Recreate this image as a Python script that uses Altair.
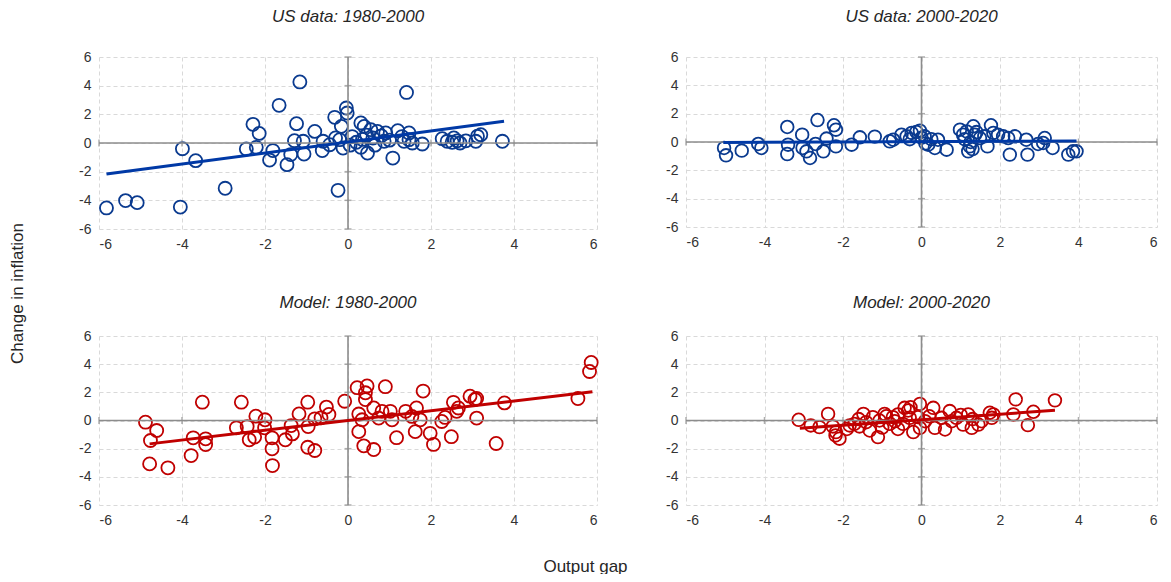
import altair as alt
import pandas as pd

TICKS = [-6, -4, -2, 0, 2, 4, 6]
TITLES = ["US data: 1980-2000", "US data: 2000-2020", "Model: 1980-2000", "Model: 2000-2020"]
Y_TITLE = "Change in inflation"
X_TITLE = "Output gap"

# US data 1980-2000
tl_x = [-5.82, -5.36, -5.08, -4.04, -3.99, -3.67, -2.96, -2.45, -2.29, -2.14, -2.21, -1.81, -1.89, -1.66,
        -1.47, -1.38, -1.24, -1.16, -1.29, -1.08, -1.06, -0.80, -0.62, -0.60, -0.44, -0.32, -0.24, -0.20,
        -0.12, -0.16, -0.04, -0.02, 1.41, 0.31, 0.39, 0.55, 0.71, 0.91, 1.20, 1.47, 1.47, 1.08, 0.47, 0.31,
        0.87, 1.35, 1.55, 1.79, 2.27, 2.39, 2.51, 2.63, 2.84, 3.08, 3.12, 3.20, 3.72,
        -0.30, 0.05, 0.10, 0.20, 0.35, 0.45, 0.60, 0.65, 0.80, 1.00, 1.30, 2.55, 2.70]
tl_y = [-4.53, -4.02, -4.16, -4.47, -0.40, -1.23, -3.16, -0.42, 1.30, 0.67, -0.30, -0.53, -1.19, 2.63,
        -1.51, -0.81, 1.35, 4.26, 0.16, 0.12, -0.77, 0.81, -0.53, 0.12, -0.12, 1.79, -3.30, 0.23,
        -0.35, 1.16, 2.44, 2.09, 3.53, 1.40, 1.16, 0.93, 0.81, 0.70, 0.86, 0.70, 0.23, -1.05, -0.70, -0.30,
        0.12, 0.12, 0.00, -0.07, 0.30, 0.12, 0.05, 0.15, 0.15, 0.12, 0.47, 0.58, 0.12,
        0.35, -0.15, 0.45, 0.05, 0.25, 0.55, 0.35, -0.15, 0.50, 0.20, 0.45, 0.35, 0.00]
tl_fit_x = [-5.82, 3.76]
tl_fit_y = [-2.16, 1.51]

# US data 2000-2020
tr_x = [-5.03, -4.98, -4.58, -4.16, -4.08, -3.42, -3.40, -3.42, -3.04, -3.03, -2.84, -2.93, -2.65, -2.70,
        -2.50, -2.42, -2.23, -2.18, -2.18, -1.78, -1.57, -1.19, -0.81, -0.72, -0.51, -0.38, -0.25, -0.13,
        -0.04, 0.08, 0.17, 0.34, 0.42, 0.64, 0.98, 1.06, 1.19, 1.23, 1.32, 1.36, 1.49, 1.68, 1.77, 1.83,
        1.95, 2.08, 2.21, 2.25, 2.38, 2.67, 2.70, 2.97, 3.14, 3.10, 3.34, 3.74, 3.86, 3.95,
        -0.30, 0.00, 0.10, 0.25, 1.10, 1.25, 1.40, 1.60, 1.30, 1.15]
tr_y = [-0.42, -0.94, -0.61, -0.14, -0.42, 1.06, -0.19, -0.85, 0.52, -0.42, -1.13, -0.66, 1.55, -0.14,
        -0.66, 0.24, 1.18, 0.87, -0.31, -0.19, 0.33, 0.38, 0.05, 0.16, 0.52, 0.40, 0.64, 0.71,
        0.80, 0.40, -0.19, -0.42, 0.16, -0.54, 0.87, 0.52, -0.66, -0.31, 1.11, 0.52, 0.28, -0.31, 1.18, 0.64,
        0.52, 0.40, 0.28, -0.89, 0.40, 0.16, -0.89, -0.14, 0.28, -0.07, -0.42, -0.89, -0.66, -0.66,
        0.20, 0.30, -0.10, 0.20, 0.20, 0.00, 0.70, 0.40, -0.50, 0.75]
tr_fit_x = [-5.05, 3.95]
tr_fit_y = [-0.03, 0.07]

# Model 1980-2000
bl_x = [-4.88, -4.61, -4.76, -4.78, -4.34, -3.78, -3.73, -3.51, -3.43, -3.43, -2.69, -2.57, -2.43, -2.38,
        -2.25, -2.22, -2.00, -2.01, -1.83, -1.83, -1.82, -1.51, -1.37, -1.34, -1.18, -0.97, -0.96, -0.97,
        -0.80, -0.80, -0.65, -0.52, -0.46, -0.08, 0.22, 0.46, 0.42, 0.42, 0.90, 1.81, 0.26, 0.34, 0.26,
        0.38, 0.62, 0.62, 0.74, 0.82, 1.02, 1.06, 1.17, 1.39, 1.54, 1.65, 1.74, 1.62, 1.98, 2.06, 2.26,
        2.34, 2.49, 2.54, 2.62, 2.66, 2.94, 3.06, 3.10, 3.10, 3.57, 3.77, 5.54, 5.86, 5.82]
bl_y = [-0.12, -0.71, -1.42, -3.08, -3.36, -2.49, -1.23, 1.30, -1.30, -1.71, -0.52, 1.30, -0.43, -1.37,
        -1.18, 0.31, 0.05, -0.52, -1.23, -2.01, -3.20, -1.37, -0.36, -0.95, 0.47, 1.30, -0.43, -1.90,
        -2.13, 0.12, 0.19, 0.95, 0.43, 1.37, 2.33, 2.45, 1.97, 1.49, 2.40, 2.09, 0.46, 0.05, -0.79,
        -1.80, -2.06, 0.89, 0.17, 0.65, 0.65, 0.05, -1.22, 0.65, 0.29, 0.89, 0.05, -0.79, -0.91, -1.70, -0.07,
        0.22, -1.15, 1.29, 0.65, 0.89, 1.73, 1.49, 1.56, 0.17, -1.63, 1.25, 1.56, 4.12, 3.48]
bl_fit_x = [-4.78, 5.89]
bl_fit_y = [-1.66, 2.04]

# Model 2000-2020
br_x = [-3.13, -2.82, -2.60, -2.38, -2.26, -2.18, -2.09, -2.19, -1.83, -1.71, -1.58, -1.48, -1.41, -1.32,
        -1.24, -1.11, -1.07, -0.94, -0.81, -0.73, -0.47, -0.34, -0.28, -0.21, -0.09, -0.04, -0.68, -0.60,
        -0.43, -0.30, -0.04, 0.09, 0.30, 0.34, 0.51, 0.60, 0.72, 0.77, 0.89, 1.06, 1.19, 1.28, 1.45, 1.53,
        1.74, 1.79, 1.83, 2.40, 2.34, 2.71, 2.85, 3.40,
        -1.90, -1.00, -0.60, 0.20, 1.00, 1.30, -1.60, -0.90]
br_y = [0.05, -0.35, -0.47, 0.47, -0.42, -0.82, -1.29, -1.06, -0.35, -0.24, -0.42, 0.47, -0.12, -0.71,
        0.24, -1.18, 0.00, 0.47, -0.24, 0.24, -0.24, 0.71, 0.94, -0.82, 0.24, 1.18, -0.05, 0.43,
        0.90, 0.19, -0.52, -0.05, 0.90, -0.52, 0.19, -0.64, 0.67, -0.05, 0.19, -0.29, 0.43, -0.52, -0.29, -0.05,
        0.55, 0.19, 0.43, 1.50, 0.43, -0.33, 0.62, 1.43,
        -0.60, -0.50, -0.60, 0.30, 0.40, 0.10, 0.10, 0.30]
br_fit_x = [-3.10, 3.40]
br_fit_y = [-0.55, 0.72]

BLUE = "#0a3a8f"
BLUE_LINE = "#0039a6"
RED = "#c00000"
FONT = "Liberation Sans"


def panel(xs, ys, fx, fy, color, line_color, title, w, h, size, title_offset, ytitle=False, xtitle=False):
    scale = alt.Scale(domain=[-6, 6], nice=False, zero=False)
    ax_common = dict(values=TICKS, grid=True, gridDash=[4, 3], gridColor="#d9d9d9", gridWidth=1,
                     domain=False, ticks=False, labelFont=FONT, labelFontSize=14,
                     labelColor="#333333", labelPadding=8, labelExpr="'' + datum.value")
    if ytitle:
        ax_y = alt.Axis(title=Y_TITLE, titleFont=FONT, titleFontSize=17, titleFontWeight="normal",
                        titleColor="#262626", titleAngle=270, titleX=-82, titleY=236,
                        titleAlign="center", titleBaseline="middle", **ax_common)
    else:
        ax_y = alt.Axis(title=None, **ax_common)
    if xtitle:
        ax_x = alt.Axis(title=X_TITLE, titleFont=FONT, titleFontSize=17, titleFontWeight="normal",
                        titleColor="#262626", titleX=486, titleY=61,
                        titleAlign="center", titleBaseline="middle", **ax_common)
    else:
        ax_x = alt.Axis(title=None, **ax_common)

    X = alt.X("x:Q", scale=scale, axis=ax_x)
    Y = alt.Y("y:Q", scale=scale, axis=ax_y)

    pts = pd.DataFrame({"x": xs, "y": ys})
    fit = pd.DataFrame({"x": fx, "y": fy})
    vrule = pd.DataFrame({"x": [0]})
    hrule = pd.DataFrame({"y": [0]})
    vt = pd.DataFrame({"x": [0] * len(TICKS), "y": TICKS})
    ht = pd.DataFrame({"x": TICKS, "y": [0] * len(TICKS)})

    base_pts = alt.Chart(pts).mark_point(shape="circle", filled=False, color=color,
                                         strokeWidth=1.8, size=size, opacity=1).encode(x=X, y=Y)
    r1 = alt.Chart(vrule).mark_rule(color="#8c8c8c", strokeWidth=1.6).encode(x=X)
    r2 = alt.Chart(hrule).mark_rule(color="#8c8c8c", strokeWidth=1.6).encode(y=Y)
    t1 = alt.Chart(vt).mark_tick(color="#8c8c8c", orient="horizontal", size=7, thickness=1.5).encode(x=X, y=Y)
    t2 = alt.Chart(ht).mark_tick(color="#8c8c8c", orient="vertical", size=7, thickness=1.5).encode(x=X, y=Y)
    line = alt.Chart(fit).mark_line(color=line_color, strokeWidth=3).encode(x=X, y=Y)

    return alt.layer(base_pts, r1, r2, t1, t2, line).properties(
        width=w, height=h,
        title=alt.TitleParams(title, font=FONT, fontSize=17, fontStyle="italic", fontWeight="normal",
                              color="#262626", anchor="middle", offset=title_offset),
    )


p1 = panel(tl_x, tl_y, tl_fit_x, tl_fit_y, BLUE, BLUE_LINE, TITLES[0], 498, 172, 170, 24, ytitle=True)
p2 = panel(tr_x, tr_y, tr_fit_x, tr_fit_y, BLUE, BLUE_LINE, TITLES[1], 471, 170, 160, 24)
p3 = panel(bl_x, bl_y, bl_fit_x, bl_fit_y, RED, RED, TITLES[2], 498, 169, 170, 17, xtitle=True)
p4 = panel(br_x, br_y, br_fit_x, br_fit_y, RED, RED, TITLES[3], 471, 169, 160, 17)

chart = alt.concat(p1, p2, p3, p4, columns=2, spacing=alt.RowColnumber(row=107, column=89),
                   bounds="flush", align="each").properties(padding=0).configure_view(strokeWidth=0)

chart.save("out.html", embed_options={"renderer": "svg", "actions": False})
